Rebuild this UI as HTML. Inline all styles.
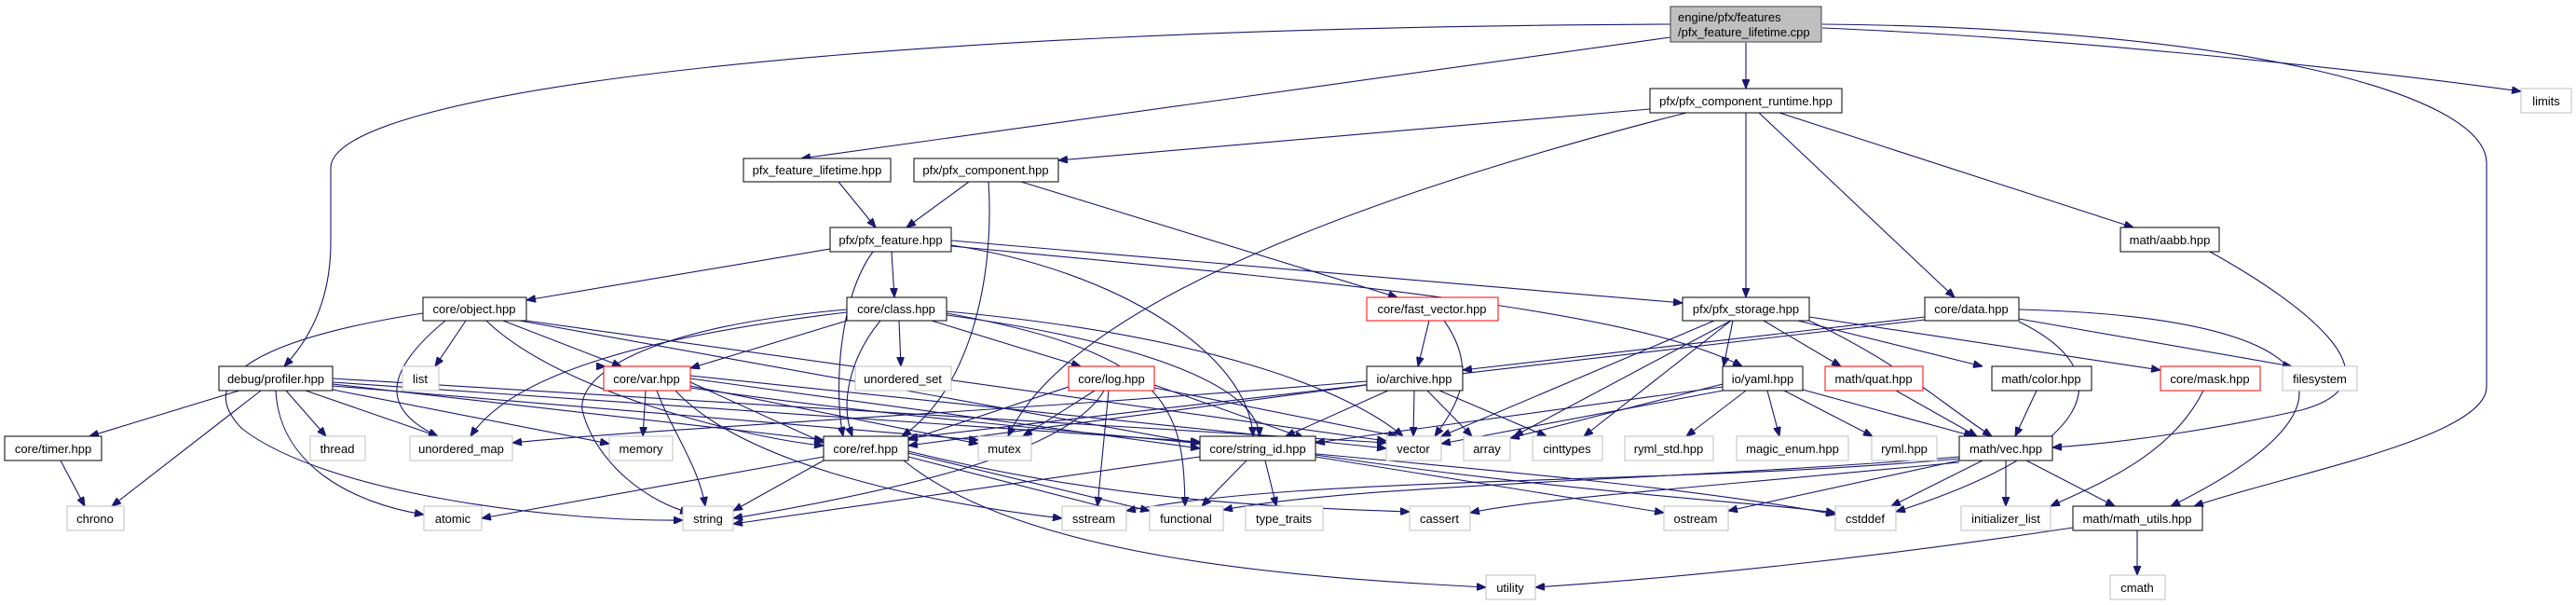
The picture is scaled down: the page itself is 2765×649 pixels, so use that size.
<!DOCTYPE html>
<html><head><meta charset="utf-8"><style>
html,body{margin:0;padding:0;background:#fff}
svg{display:block}
text{font-family:"Liberation Sans",Arial,sans-serif;font-size:13px;fill:#000}
.n{fill:#fff;stroke:#000;stroke-width:1}
.r{fill:#fff;stroke:#ff0000;stroke-width:1}
.g{fill:#fff;stroke:#bfbfbf;stroke-width:1}
.e{fill:none;stroke:#191970;stroke-width:1.1}
</style></head><body>
<svg width="2765" height="649" viewBox="0 0 2765 649" xmlns="http://www.w3.org/2000/svg">
<defs><marker id="a" markerWidth="10" markerHeight="8" refX="10" refY="4" orient="auto" markerUnits="userSpaceOnUse"><path d="M0,0 L10,4 L0,8 z" fill="#191970" stroke="#191970"/></marker></defs>
<g class="e" marker-end="url(#a)">
<!-- root -->
<path d="M1793,26 C900,30 355,100 355,180 L355,260 Q355,340 305,393"/>
<path d="M1956,26 C2400,30 2669,100 2669,175 L2669,415 C2669,470 2450,510 2355,543"/>
<path d="M1956,30 C2200,40 2500,70 2706,98"/>
<path d="M1874,46 L1874,95"/>
<path d="M1793,40 L860,170"/>
<!-- pcr -->
<path d="M1771,117 L1136,172"/>
<path d="M1810,121 C1500,200 1150,320 1082,468"/>
<path d="M1874,121 L1874,319"/>
<path d="M1888,121 L2098,319"/>
<path d="M1910,121 L2290,244"/>
<!-- pfl, pc -->
<path d="M900,195 L940,244"/>
<path d="M1040,195 L973,244"/>
<path d="M1061,195 C1068,300 1040,420 968,468"/>
<path d="M1096,195 L1500,319"/>
<!-- pf -->
<path d="M891,267 L565,322"/>
<path d="M957,270 L960,319"/>
<path d="M937,270 C900,320 895,420 905,468"/>
<path d="M1021,263 C1200,290 1340,380 1345,468"/>
<path d="M1021,258 L1806,325"/>
<path d="M1021,264 C1400,300 1750,330 1870,393"/>
<!-- obj -->
<path d="M500,344 L467,393"/>
<path d="M478,344 C410,400 410,440 470,468"/>
<path d="M454,336 C300,360 200,400 260,460 C350,530 600,560 733,558"/>
<path d="M523,344 L565,393 L650,393" stroke-opacity="0"/>
<path d="M540,344 L667,393"/>
<path d="M558,344 L1288,476"/>
<path d="M565,344 L1488,473"/>
<path d="M522,344 C600,420 800,470 884,478"/>
<!-- cls -->
<path d="M909,344 L741,395"/>
<path d="M965,344 L967,393"/>
<path d="M1000,344 L1160,393"/>
<path d="M945,344 C915,380 900,430 915,468"/>
<path d="M1016,338 C1250,370 1350,420 1352,468"/>
<path d="M1016,336 C1260,380 1270,440 1272,543"/>
<path d="M1016,334 C1300,360 1450,420 1506,468"/>
<path d="M909,335 C700,360 550,400 505,468"/>
<path d="M909,332 C700,350 620,400 625,440 C640,500 700,540 740,550"/>
<!-- var -->
<path d="M693,419 L690,468"/>
<path d="M705,419 C720,460 750,500 757,543"/>
<path d="M741,410 L884,475"/>
<path d="M741,406 L1288,481"/>
<path d="M741,414 L1050,476"/>
<path d="M741,403 L1488,481"/>
<path d="M725,419 C800,500 1000,540 1140,556"/>
<path d="M741,416 C1100,470 1700,500 1970,552"/>
<!-- profiler -->
<path d="M257,419 L96,468"/>
<path d="M280,419 L120,543"/>
<path d="M307,419 L350,468"/>
<path d="M328,419 L470,468"/>
<path d="M357,418 L654,476"/>
<path d="M296,419 C300,500 380,540 455,552"/>
<path d="M357,410 L1288,474"/>
<path d="M357,412 L884,472"/>
<path d="M357,414 L1050,472"/>
<path d="M357,406 L1488,475"/>
<!-- timer -->
<path d="M65,494 L91,543"/>
<!-- log -->
<path d="M1175,419 L1098,468"/>
<path d="M1190,419 L1178,543"/>
<path d="M1185,419 C1150,480 1000,520 787,556"/>
<path d="M1239,416 L1500,468"/>
<path d="M1147,415 L975,472"/>
<path d="M1239,413 L1400,470"/>
<!-- fast vector -->
<path d="M1534,344 L1522,393"/>
<path d="M1550,344 C1590,400 1560,440 1540,468"/>
<!-- archive -->
<path d="M1518,419 L1517,468"/>
<path d="M1532,419 L1580,468"/>
<path d="M1545,419 L1660,468"/>
<path d="M1490,419 L1380,468"/>
<path d="M1467,413 L975,478"/>
<path d="M1467,409 C1100,440 700,460 550,475"/>
<!-- storage -->
<path d="M1860,344 L1850,393"/>
<path d="M1893,344 L1976,393"/>
<path d="M1930,344 L2128,393"/>
<path d="M1942,340 L2319,397"/>
<path d="M1942,344 C2040,390 2080,430 2138,468"/>
<path d="M1840,344 L1547,468"/>
<path d="M1858,344 L1625,468"/>
<path d="M1858,344 L1700,468"/>
<!-- data -->
<path d="M2066,340 L1570,397"/>
<path d="M2066,343 L975,470"/>
<path d="M2167,342 L2460,393"/>
<path d="M2167,345 C2280,400 2250,480 2035,549"/>
<path d="M2167,332 C2500,340 2560,430 2330,543"/>
<!-- yaml -->
<path d="M1849,419 L1547,476"/>
<path d="M1874,419 L1810,468"/>
<path d="M1897,419 L1910,468"/>
<path d="M1915,419 L2010,468"/>
<path d="M1935,418 L2118,468"/>
<path d="M1849,412 L1621,470"/>
<path d="M1849,415 L1412,475"/>
<!-- quat color mask aabb -->
<path d="M2035,419 L2122,468"/>
<path d="M2186,419 L2163,468"/>
<path d="M2365,419 C2330,490 2250,520 2201,543"/>
<path d="M2372,270 C2480,330 2580,410 2470,440 C2380,460 2280,475 2203,480"/>
<!-- vec -->
<path d="M2128,494 L2030,543"/>
<path d="M2153,494 L2153,543"/>
<path d="M2175,494 L2270,543"/>
<path d="M2103,494 L1855,548"/>
<path d="M2103,492 C1800,520 1400,510 1209,548"/>
<path d="M2103,490 C1800,515 1450,520 1313,547"/>
<path d="M2103,496 C1800,525 1650,535 1578,550"/>
<!-- ref -->
<path d="M884,490 L517,556"/>
<path d="M975,490 L1209,550"/>
<path d="M975,486 L1234,548"/>
<path d="M970,494 C1100,600 1400,620 1595,630"/>
<path d="M975,484 C1200,540 1400,545 1513,549"/>
<path d="M884,494 L787,548"/>
<!-- sid -->
<path d="M1288,490 L787,562"/>
<path d="M1338,494 L1290,543"/>
<path d="M1358,494 L1370,543"/>
<path d="M1412,490 L1786,550"/>
<path d="M1412,488 C1700,530 1900,540 1970,550"/>
<!-- math utils -->
<path d="M2225,566 C2000,600 1800,620 1648,630"/>
<path d="M2294,569 L2294,617"/>
</g>
<!-- nodes -->
<rect x="1793" y="7" width="162" height="38" fill="#bfbfbf" stroke="#404040"/>
<text x="1801" y="23">engine/pfx/features</text>
<text x="1801" y="39">/pfx_feature_lifetime.cpp</text>
<g>
<rect class="n" x="1771" y="95" width="206" height="26"/><text x="1874" y="113" text-anchor="middle">pfx/pfx_component_runtime.hpp</text>
<rect class="g" x="2706" y="95" width="54" height="26"/><text x="2733" y="113" text-anchor="middle" fill="#000">limits</text>
<rect class="n" x="798" y="170" width="158" height="25"/><text x="877" y="187" text-anchor="middle">pfx_feature_lifetime.hpp</text>
<rect class="n" x="981" y="170" width="155" height="25"/><text x="1058" y="187" text-anchor="middle">pfx/pfx_component.hpp</text>
<rect class="n" x="891" y="244" width="130" height="26"/><text x="956" y="262" text-anchor="middle">pfx/pfx_feature.hpp</text>
<rect class="n" x="2276" y="244" width="106" height="26"/><text x="2329" y="262" text-anchor="middle">math/aabb.hpp</text>
<rect class="n" x="454" y="319" width="111" height="25"/><text x="509" y="336" text-anchor="middle">core/object.hpp</text>
<rect class="n" x="909" y="319" width="107" height="25"/><text x="962" y="336" text-anchor="middle">core/class.hpp</text>
<rect class="r" x="1467" y="319" width="141" height="25"/><text x="1537" y="336" text-anchor="middle">core/fast_vector.hpp</text>
<rect class="n" x="1806" y="319" width="136" height="25"/><text x="1874" y="336" text-anchor="middle">pfx/pfx_storage.hpp</text>
<rect class="n" x="2066" y="319" width="101" height="25"/><text x="2116" y="336" text-anchor="middle">core/data.hpp</text>
<rect class="n" x="235" y="393" width="122" height="26"/><text x="296" y="411" text-anchor="middle">debug/profiler.hpp</text>
<rect class="g" x="432" y="393" width="39" height="26"/><text x="451" y="411" text-anchor="middle">list</text>
<rect class="r" x="648" y="393" width="93" height="26"/><text x="694" y="411" text-anchor="middle">core/var.hpp</text>
<rect class="g" x="918" y="393" width="103" height="26"/><text x="969" y="411" text-anchor="middle">unordered_set</text>
<rect class="r" x="1147" y="393" width="92" height="26"/><text x="1193" y="411" text-anchor="middle">core/log.hpp</text>
<rect class="n" x="1467" y="393" width="103" height="26"/><text x="1518" y="411" text-anchor="middle">io/archive.hpp</text>
<rect class="n" x="1849" y="393" width="86" height="26"/><text x="1892" y="411" text-anchor="middle">io/yaml.hpp</text>
<rect class="r" x="1959" y="393" width="105" height="26"/><text x="2011" y="411" text-anchor="middle">math/quat.hpp</text>
<rect class="n" x="2138" y="393" width="107" height="26"/><text x="2191" y="411" text-anchor="middle">math/color.hpp</text>
<rect class="r" x="2319" y="393" width="107" height="26"/><text x="2372" y="411" text-anchor="middle">core/mask.hpp</text>
<rect class="g" x="2450" y="393" width="80" height="26"/><text x="2490" y="411" text-anchor="middle">filesystem</text>
<rect class="n" x="5" y="468" width="104" height="26"/><text x="57" y="486" text-anchor="middle">core/timer.hpp</text>
<rect class="g" x="333" y="468" width="59" height="26"/><text x="362" y="486" text-anchor="middle">thread</text>
<rect class="g" x="440" y="468" width="110" height="26"/><text x="495" y="486" text-anchor="middle">unordered_map</text>
<rect class="g" x="654" y="468" width="68" height="26"/><text x="688" y="486" text-anchor="middle">memory</text>
<rect class="n" x="884" y="468" width="91" height="26"/><text x="929" y="486" text-anchor="middle">core/ref.hpp</text>
<rect class="g" x="1050" y="468" width="57" height="26"/><text x="1078" y="486" text-anchor="middle">mutex</text>
<rect class="n" x="1288" y="468" width="124" height="26"/><text x="1350" y="486" text-anchor="middle">core/string_id.hpp</text>
<rect class="g" x="1488" y="468" width="59" height="26"/><text x="1517" y="486" text-anchor="middle">vector</text>
<rect class="g" x="1571" y="468" width="50" height="26"/><text x="1596" y="486" text-anchor="middle">array</text>
<rect class="g" x="1645" y="468" width="75" height="26"/><text x="1682" y="486" text-anchor="middle">cinttypes</text>
<rect class="g" x="1744" y="468" width="95" height="26"/><text x="1791" y="486" text-anchor="middle">ryml_std.hpp</text>
<rect class="g" x="1864" y="468" width="120" height="26"/><text x="1924" y="486" text-anchor="middle">magic_enum.hpp</text>
<rect class="g" x="2009" y="468" width="70" height="26"/><text x="2044" y="486" text-anchor="middle">ryml.hpp</text>
<rect class="n" x="2103" y="468" width="100" height="26"/><text x="2153" y="486" text-anchor="middle">math/vec.hpp</text>
<rect class="g" x="72" y="543" width="61" height="26"/><text x="102" y="561" text-anchor="middle">chrono</text>
<rect class="g" x="455" y="543" width="62" height="26"/><text x="486" y="561" text-anchor="middle">atomic</text>
<rect class="g" x="733" y="543" width="54" height="26"/><text x="760" y="561" text-anchor="middle">string</text>
<rect class="g" x="1140" y="543" width="69" height="26"/><text x="1174" y="561" text-anchor="middle">sstream</text>
<rect class="g" x="1234" y="543" width="79" height="26"/><text x="1273" y="561" text-anchor="middle">functional</text>
<rect class="g" x="1337" y="543" width="83" height="26"/><text x="1378" y="561" text-anchor="middle">type_traits</text>
<rect class="g" x="1513" y="543" width="65" height="26"/><text x="1545" y="561" text-anchor="middle">cassert</text>
<rect class="g" x="1786" y="543" width="69" height="26"/><text x="1820" y="561" text-anchor="middle">ostream</text>
<rect class="g" x="1970" y="543" width="65" height="26"/><text x="2002" y="561" text-anchor="middle">cstddef</text>
<rect class="g" x="2105" y="543" width="96" height="26"/><text x="2153" y="561" text-anchor="middle">initializer_list</text>
<rect class="n" x="2225" y="543" width="139" height="26"/><text x="2294" y="561" text-anchor="middle">math/math_utils.hpp</text>
<rect class="g" x="1595" y="617" width="53" height="26"/><text x="1621" y="635" text-anchor="middle">utility</text>
<rect class="g" x="2265" y="617" width="59" height="26"/><text x="2294" y="635" text-anchor="middle">cmath</text>
</g>
</svg>
</body></html>
